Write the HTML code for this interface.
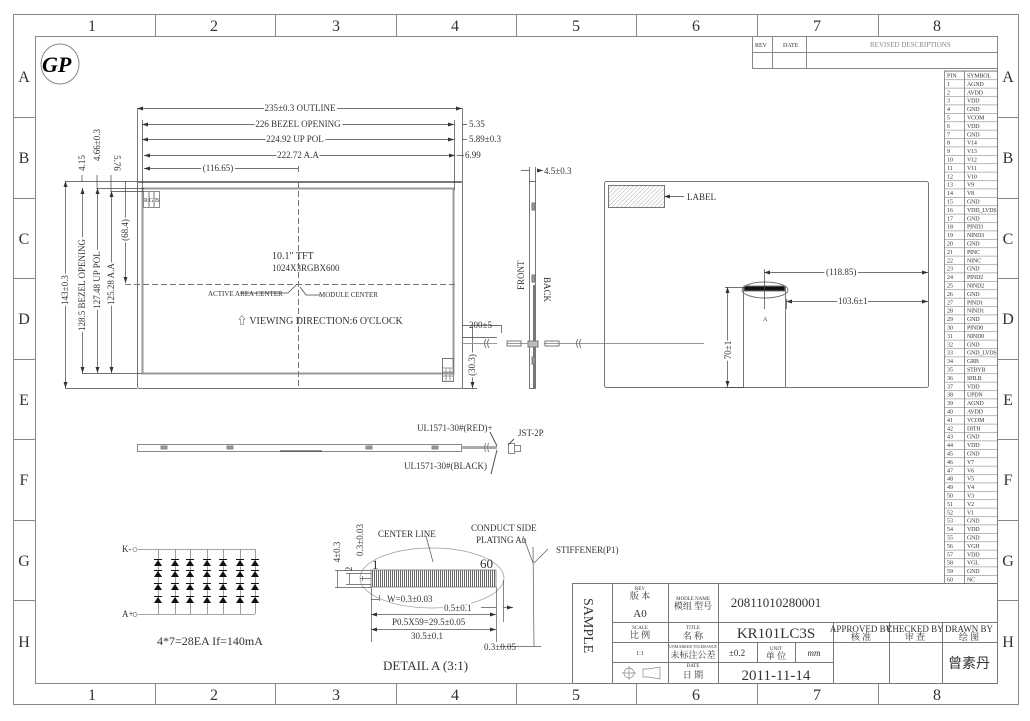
<!DOCTYPE html>
<html><head><meta charset="utf-8"><style>
html,body{margin:0;padding:0;background:#fff;}
svg{display:block;}
text{font-family:"Liberation Serif","Noto Serif CJK SC",serif;fill:#333;}
.s{font-size:9px;}
.m{font-size:10px;}
.t{font-size:6px;}
.g{font-family:"Liberation Sans",sans-serif;fill:#bbb;font-size:16px;}
</style></head><body>
<svg width="1030" height="721" viewBox="0 0 1030 721" xmlns="http://www.w3.org/2000/svg">
<defs>
<marker id="a" markerWidth="6" markerHeight="4" refX="6" refY="2" orient="auto-start-reverse" markerUnits="userSpaceOnUse"><path d="M0,0L6,2L0,4z" fill="#333"/></marker>
<pattern id="h" width="3" height="3" patternUnits="userSpaceOnUse" patternTransform="rotate(45)"><line x1="0" y1="0" x2="0" y2="3" stroke="#999" stroke-width="0.8"/></pattern>
<pattern id="p" width="2" height="4" patternUnits="userSpaceOnUse"><rect width="1" height="4" fill="#666"/></pattern>
<pattern id="rows" x="0" y="71" width="60" height="8.4" patternUnits="userSpaceOnUse"><rect width="60" height="0.6" fill="#888"/></pattern>
<g id="d"><path d="M-4 3L4 3L0 -3z"/><rect x="-4" y="-4" width="8" height="1"/></g>
</defs>
<g fill="none" stroke="#888" stroke-width="1">
<rect x="13.5" y="14.5" width="1005" height="690"/>
<rect x="35.5" y="36.5" width="962" height="647"/>
<path d="M155.5 14v22M275.5 14v22M396.5 14v22M516.5 14v22M636.5 14v22M757.5 14v22M878.5 14v22"/>
<path d="M155.5 683v21M275.5 683v21M396.5 683v21M516.5 683v21M636.5 683v21M757.5 683v21M878.5 683v21"/>
<path d="M13 117.5h22M13 198.5h22M13 278.5h22M13 359.5h22M13 439.5h22M13 520.5h22M13 600.5h22"/>
<path d="M997 117.5h22M997 198.5h22M997 278.5h22M997 359.5h22M997 439.5h22M997 520.5h22M997 600.5h22"/>
</g>
<g class="g" text-anchor="middle">
<text x="92" y="31">1</text><text x="214" y="31">2</text><text x="336" y="31">3</text><text x="455" y="31">4</text><text x="576" y="31">5</text><text x="696" y="31">6</text><text x="817" y="31">7</text><text x="937" y="31">8</text>
<text x="92" y="700">1</text><text x="214" y="700">2</text><text x="336" y="700">3</text><text x="455" y="700">4</text><text x="576" y="700">5</text><text x="696" y="700">6</text><text x="817" y="700">7</text><text x="937" y="700">8</text>
<text x="24" y="82">A</text><text x="24" y="163">B</text><text x="24" y="244">C</text><text x="24" y="324">D</text><text x="24" y="405">E</text><text x="24" y="485">F</text><text x="24" y="566">G</text><text x="24" y="647">H</text>
<text x="1008" y="82">A</text><text x="1008" y="163">B</text><text x="1008" y="244">C</text><text x="1008" y="324">D</text><text x="1008" y="405">E</text><text x="1008" y="485">F</text><text x="1008" y="566">G</text><text x="1008" y="647">H</text>
</g>
<!-- logo -->
<ellipse cx="60" cy="64" rx="19" ry="20" fill="none" stroke="#888"/>
<text x="42" y="72" style="font-family:'Liberation Serif',serif;font-size:22px;font-style:italic;font-weight:bold;fill:#000">GP</text>
<!-- revision block -->
<g fill="none" stroke="#888"><rect x="752.5" y="36.5" width="245" height="32"/><path d="M752 52.5h245M772.5 36v32M806.5 36v32"/></g>
<text class="t" x="755" y="47" fill="#999">REV</text><text class="t" x="783" y="47">DATE</text><text x="870" y="47" style="font-size:7px;fill:#888">REVISED DESCRIPTIONS</text>
<!-- pin table -->
<rect x="944.5" y="71" width="53" height="512.4" fill="url(#rows)"/>
<rect x="944.5" y="71" width="53" height="512.4" fill="none" stroke="#777" stroke-width="0.8"/>
<line x1="964.5" y1="71" x2="964.5" y2="583.4" stroke="#777" stroke-width="0.8"/>
<text style="font-size:6px"><tspan x="947" y="77.5">PIN</tspan><tspan x="947" dy="8.4">1</tspan><tspan x="947" dy="8.4">2</tspan><tspan x="947" dy="8.4">3</tspan><tspan x="947" dy="8.4">4</tspan><tspan x="947" dy="8.4">5</tspan><tspan x="947" dy="8.4">6</tspan><tspan x="947" dy="8.4">7</tspan><tspan x="947" dy="8.4">8</tspan><tspan x="947" dy="8.4">9</tspan><tspan x="947" dy="8.4">10</tspan><tspan x="947" dy="8.4">11</tspan><tspan x="947" dy="8.4">12</tspan><tspan x="947" dy="8.4">13</tspan><tspan x="947" dy="8.4">14</tspan><tspan x="947" dy="8.4">15</tspan><tspan x="947" dy="8.4">16</tspan><tspan x="947" dy="8.4">17</tspan><tspan x="947" dy="8.4">18</tspan><tspan x="947" dy="8.4">19</tspan><tspan x="947" dy="8.4">20</tspan><tspan x="947" dy="8.4">21</tspan><tspan x="947" dy="8.4">22</tspan><tspan x="947" dy="8.4">23</tspan><tspan x="947" dy="8.4">24</tspan><tspan x="947" dy="8.4">25</tspan><tspan x="947" dy="8.4">26</tspan><tspan x="947" dy="8.4">27</tspan><tspan x="947" dy="8.4">28</tspan><tspan x="947" dy="8.4">29</tspan><tspan x="947" dy="8.4">30</tspan><tspan x="947" dy="8.4">31</tspan><tspan x="947" dy="8.4">32</tspan><tspan x="947" dy="8.4">33</tspan><tspan x="947" dy="8.4">34</tspan><tspan x="947" dy="8.4">35</tspan><tspan x="947" dy="8.4">36</tspan><tspan x="947" dy="8.4">37</tspan><tspan x="947" dy="8.4">38</tspan><tspan x="947" dy="8.4">39</tspan><tspan x="947" dy="8.4">40</tspan><tspan x="947" dy="8.4">41</tspan><tspan x="947" dy="8.4">42</tspan><tspan x="947" dy="8.4">43</tspan><tspan x="947" dy="8.4">44</tspan><tspan x="947" dy="8.4">45</tspan><tspan x="947" dy="8.4">46</tspan><tspan x="947" dy="8.4">47</tspan><tspan x="947" dy="8.4">48</tspan><tspan x="947" dy="8.4">49</tspan><tspan x="947" dy="8.4">50</tspan><tspan x="947" dy="8.4">51</tspan><tspan x="947" dy="8.4">52</tspan><tspan x="947" dy="8.4">53</tspan><tspan x="947" dy="8.4">54</tspan><tspan x="947" dy="8.4">55</tspan><tspan x="947" dy="8.4">56</tspan><tspan x="947" dy="8.4">57</tspan><tspan x="947" dy="8.4">58</tspan><tspan x="947" dy="8.4">59</tspan><tspan x="947" dy="8.4">60</tspan></text>
<text style="font-size:6px;letter-spacing:-0.2px"><tspan x="967" y="77.5">SYMBOL</tspan><tspan x="967" dy="8.4">AGND</tspan><tspan x="967" dy="8.4">AVDD</tspan><tspan x="967" dy="8.4">VDD</tspan><tspan x="967" dy="8.4">GND</tspan><tspan x="967" dy="8.4">VCOM</tspan><tspan x="967" dy="8.4">VDD</tspan><tspan x="967" dy="8.4">GND</tspan><tspan x="967" dy="8.4">V14</tspan><tspan x="967" dy="8.4">V13</tspan><tspan x="967" dy="8.4">V12</tspan><tspan x="967" dy="8.4">V11</tspan><tspan x="967" dy="8.4">V10</tspan><tspan x="967" dy="8.4">V9</tspan><tspan x="967" dy="8.4">V8</tspan><tspan x="967" dy="8.4">GND</tspan><tspan x="967" dy="8.4">VDD_LVDS</tspan><tspan x="967" dy="8.4">GND</tspan><tspan x="967" dy="8.4">PIND3</tspan><tspan x="967" dy="8.4">NIND3</tspan><tspan x="967" dy="8.4">GND</tspan><tspan x="967" dy="8.4">PINC</tspan><tspan x="967" dy="8.4">NINC</tspan><tspan x="967" dy="8.4">GND</tspan><tspan x="967" dy="8.4">PIND2</tspan><tspan x="967" dy="8.4">NIND2</tspan><tspan x="967" dy="8.4">GND</tspan><tspan x="967" dy="8.4">PIND1</tspan><tspan x="967" dy="8.4">NIND1</tspan><tspan x="967" dy="8.4">GND</tspan><tspan x="967" dy="8.4">PIND0</tspan><tspan x="967" dy="8.4">NIND0</tspan><tspan x="967" dy="8.4">GND</tspan><tspan x="967" dy="8.4">GND_LVDS</tspan><tspan x="967" dy="8.4">GRB</tspan><tspan x="967" dy="8.4">STBYB</tspan><tspan x="967" dy="8.4">SHLR</tspan><tspan x="967" dy="8.4">VDD</tspan><tspan x="967" dy="8.4">UPDN</tspan><tspan x="967" dy="8.4">AGND</tspan><tspan x="967" dy="8.4">AVDD</tspan><tspan x="967" dy="8.4">VCOM</tspan><tspan x="967" dy="8.4">DITH</tspan><tspan x="967" dy="8.4">GND</tspan><tspan x="967" dy="8.4">VDD</tspan><tspan x="967" dy="8.4">GND</tspan><tspan x="967" dy="8.4">V7</tspan><tspan x="967" dy="8.4">V6</tspan><tspan x="967" dy="8.4">V5</tspan><tspan x="967" dy="8.4">V4</tspan><tspan x="967" dy="8.4">V3</tspan><tspan x="967" dy="8.4">V2</tspan><tspan x="967" dy="8.4">V1</tspan><tspan x="967" dy="8.4">GND</tspan><tspan x="967" dy="8.4">VDD</tspan><tspan x="967" dy="8.4">GND</tspan><tspan x="967" dy="8.4">VGH</tspan><tspan x="967" dy="8.4">VDD</tspan><tspan x="967" dy="8.4">VGL</tspan><tspan x="967" dy="8.4">GND</tspan><tspan x="967" dy="8.4">NC</tspan></text>
<!-- front view -->
<g fill="none" stroke="#777">
<rect x="137.5" y="181.5" width="325" height="207" rx="2"/>
<rect x="142.5" y="188.5" width="311" height="185" stroke-width="2" stroke="#999"/>
<line x1="137" y1="182.5" x2="462" y2="182.5"/>
<rect x="143.5" y="191.5" width="16" height="16" stroke="#888"/>
<path d="M149 191v16M154 191v16"/>
<rect x="442.5" y="358.5" width="11" height="23"/>
<path d="M443 368h11M443 372h11M443 376h11M446 368v14M450 368v14" stroke="#999"/>
<path d="M298.5 182v207" stroke-dasharray="6,3"/>
<path d="M125 284.5h333" stroke-dasharray="6,3"/>
</g>
<text class="t" x="144" y="202">R</text><text class="t" x="149" y="202">G</text><text class="t" x="155" y="202">B</text>
<g stroke="#444" stroke-width="0.7" fill="none">
<path d="M137 108.5h325" marker-start="url(#a)" marker-end="url(#a)"/>
<path d="M142 124.5h312" marker-start="url(#a)" marker-end="url(#a)"/>
<path d="M142 139.5h312" marker-start="url(#a)" marker-end="url(#a)"/>
<path d="M144 155.5h311" marker-start="url(#a)" marker-end="url(#a)"/>
<path d="M144 168.5h154" marker-start="url(#a)"/>
<path d="M137.5 108v74M462.5 108v74M142.5 120v70M454.5 120v70M298.5 166v6"/>
<path d="M462 124.5h5M462 139.5h5M457 155.5h7"/>
<path d="M82 181.5h56M97 188.5h47M111 191.5h33M65 181.5h72M125 181.5h12"/>
<path d="M65.5 181v207" marker-start="url(#a)" marker-end="url(#a)"/>
<path d="M82.5 188v185" marker-start="url(#a)" marker-end="url(#a)"/>
<path d="M97.5 188v185" marker-start="url(#a)" marker-end="url(#a)"/>
<path d="M111.5 191v182" marker-start="url(#a)" marker-end="url(#a)"/>
<path d="M125.5 181v102" marker-end="url(#a)"/>
<path d="M65 388.5h72M82 373.5h60M97 373.5h45M111 373.5h31"/>
<path d="M82 175v7M97 175v14M111 175v17"/>
<path d="M462 388.5h15M472.5 325v63" marker-end="url(#a)"/>
<path d="M462 325.5h39M501.5 325v8M462 337.5h35"/>
<path d="M240 293h48l9-9M320 295h-14l-6-8"/>
</g>
<g class="s" text-anchor="middle">
<text x="300" y="111" style="paint-order:stroke;stroke:#fff;stroke-width:4">235±0.3 OUTLINE</text>
<text x="298" y="127" style="paint-order:stroke;stroke:#fff;stroke-width:4">226 BEZEL OPENING</text>
<text x="295" y="142" style="paint-order:stroke;stroke:#fff;stroke-width:4">224.92 UP POL</text>
<text x="298" y="158" style="paint-order:stroke;stroke:#fff;stroke-width:4">222.72 A.A</text>
<text x="218" y="171" style="paint-order:stroke;stroke:#fff;stroke-width:4">(116.65)</text>
</g>
<g class="s"><text x="469" y="127">5.35</text><text x="469" y="142">5.89±0.3</text><text x="465" y="158">6.99</text>
<text x="272" y="259" class="m">10.1" TFT</text><text x="272" y="271">1024X3RGBX600</text>
<text x="208" y="296" style="font-size:7px">ACTIVE AREA CENTER</text><text x="319" y="297" style="font-size:7px">MODULE CENTER</text>
<text x="237" y="324" class="m">⇧ VIEWING DIRECTION:6 O'CLOCK</text>
<text x="469" y="328">200±5</text>
</g>
<g class="s" text-anchor="middle">
<text transform="translate(68,290) rotate(-90)" style="paint-order:stroke;stroke:#fff;stroke-width:4">143±0.3</text>
<text transform="translate(85,285) rotate(-90)" style="paint-order:stroke;stroke:#fff;stroke-width:4">128.5 BEZEL OPENING</text>
<text transform="translate(100,280) rotate(-90)" style="paint-order:stroke;stroke:#fff;stroke-width:4">127.48 UP POL</text>
<text transform="translate(114,284) rotate(-90)" style="paint-order:stroke;stroke:#fff;stroke-width:4">125.28 A.A</text>
<text transform="translate(128,230) rotate(-90)" style="paint-order:stroke;stroke:#fff;stroke-width:4">(68.4)</text>
<text transform="translate(85,163) rotate(-90)">4.15</text>
<text transform="translate(100,145) rotate(-90)">4.66±0.3</text>
<text transform="translate(114,163) rotate(90)">5.76</text>
<text transform="translate(475,365) rotate(-90)" style="paint-order:stroke;stroke:#fff;stroke-width:4">(30.3)</text>
</g>
<!-- side view -->
<g fill="none" stroke="#777">
<rect x="529.5" y="181.5" width="6" height="207"/>
<path d="M534 285v103" stroke-width="2"/>
<rect x="532" y="203" width="3" height="7" fill="#999"/><rect x="532" y="275" width="3" height="7" fill="#999"/><rect x="532" y="357" width="3" height="7" fill="#999"/>
<rect x="528" y="341" width="10" height="6" fill="#bbb"/>
<path d="M462 343.5h35M507 343.5h21M544 343.5h160" stroke="#999"/>
<rect x="507" y="341" width="14" height="5"/><rect x="545" y="341" width="14" height="5"/>
<path d="M486 339q-3 4 0 9M489 339q-3 4 0 9M578 339q-3 4 0 9M581 339q-3 4 0 9"/>
</g>
<g stroke="#444" stroke-width="0.7"><path d="M521 170.5h8M537 170.5h6" marker-end="url(#a)"/><path d="M529.5 167v15M535.5 167v15"/></g>
<text class="s" x="544" y="174">4.5±0.3</text>
<text class="s" transform="translate(524,290) rotate(-90)">FRONT</text>
<text class="s" transform="translate(544,277) rotate(90)">BACK</text>
<!-- back view -->
<g fill="none" stroke="#777">
<rect x="604.5" y="181.5" width="324" height="206" rx="2"/>
<rect x="608.5" y="185.5" width="56" height="22" fill="url(#h)"/>
<rect x="743.5" y="287.5" width="42" height="100"/>
<rect x="744" y="286" width="41" height="5" fill="#111"/>
<ellipse cx="765" cy="290" rx="23" ry="8"/>
</g>
<g stroke="#444" stroke-width="0.7" fill="none">
<path d="M664 196.5h20" marker-start="url(#a)"/>
<path d="M764 272.5h164" marker-start="url(#a)" marker-end="url(#a)"/>
<path d="M786 301.5h142" marker-start="url(#a)" marker-end="url(#a)"/>
<path d="M764.5 269v40M786.5 299v10" />
<path d="M727.5 287v100" marker-start="url(#a)" marker-end="url(#a)"/>
<path d="M725 287.5h19M725 387.5h19"/>
</g>
<text class="s" x="687" y="200">LABEL</text>
<text class="s" x="826" y="275" style="paint-order:stroke;stroke:#fff;stroke-width:4">(118.85)</text>
<text class="s" x="838" y="304" style="paint-order:stroke;stroke:#fff;stroke-width:4">103.6±1</text>
<text class="t" x="763" y="321">A</text>
<text class="s" transform="translate(731,350) rotate(-90)" text-anchor="middle" style="paint-order:stroke;stroke:#fff;stroke-width:4">70±1</text>
<!-- LED bar -->
<g fill="none" stroke="#888">
<rect x="137.5" y="444.5" width="324" height="7"/>
<rect x="161" y="446" width="6" height="3" fill="#999"/><rect x="227" y="446" width="6" height="3" fill="#999"/><rect x="366" y="446" width="6" height="3" fill="#999"/><rect x="432" y="446" width="6" height="3" fill="#999"/>
<path d="M280 451h42" stroke="#333"/>
<path d="M461 447.5h36" stroke="#aaa" stroke-width="3"/>
<rect x="508.5" y="443.5" width="6" height="10"/><rect x="514.5" y="445.5" width="6" height="6"/>
<path d="M486 443q-3 4 0 9M489 443q-3 4 0 9"/>
<path d="M490 432l7 14M514 439l-6 6M497 450l-6 24" stroke="#555"/>
</g>
<text class="s" x="417" y="431">UL1571-30#(RED)+</text>
<text class="s" x="518" y="436">JST-2P</text>
<text class="s" x="404" y="469">UL1571-30#(BLACK)</text>
<!-- LED circuit -->
<g fill="none" stroke="#888" stroke-width="0.8">
<path d="M138 549.5h117M138 614.5h117"/>
<path d="M158.5 549v65M175.5 549v65M190.5 549v65M207.5 549v65M223.5 549v65M240.5 549v65M255.5 549v65"/>
<circle cx="135" cy="549.5" r="2"/><circle cx="135" cy="614.5" r="2"/>
</g>
<g fill="#111">
<use href="#d" x="158" y="563"/><use href="#d" x="158" y="574"/><use href="#d" x="158" y="587"/><use href="#d" x="158" y="600"/>
<use href="#d" x="175" y="563"/><use href="#d" x="175" y="574"/><use href="#d" x="175" y="587"/><use href="#d" x="175" y="600"/>
<use href="#d" x="190" y="563"/><use href="#d" x="190" y="574"/><use href="#d" x="190" y="587"/><use href="#d" x="190" y="600"/>
<use href="#d" x="207" y="563"/><use href="#d" x="207" y="574"/><use href="#d" x="207" y="587"/><use href="#d" x="207" y="600"/>
<use href="#d" x="223" y="563"/><use href="#d" x="223" y="574"/><use href="#d" x="223" y="587"/><use href="#d" x="223" y="600"/>
<use href="#d" x="240" y="563"/><use href="#d" x="240" y="574"/><use href="#d" x="240" y="587"/><use href="#d" x="240" y="600"/>
<use href="#d" x="255" y="563"/><use href="#d" x="255" y="574"/><use href="#d" x="255" y="587"/><use href="#d" x="255" y="600"/>
</g>
<text class="s" x="122" y="552">K-</text><text class="s" x="122" y="617">A+</text>
<text x="157" y="645" style="font-size:12px">4*7=28EA If=140mA</text>
<!-- detail A -->
<g fill="none" stroke="#555" stroke-width="0.7">
<rect x="371" y="570" width="125" height="17" fill="url(#p)" stroke="#666"/>
<ellipse cx="432" cy="578" rx="72" ry="30" stroke="#999"/>
<path d="M337.5 570v17M349.5 573v11M362.5 576v5" />
<path d="M335 570.5h36M346 573.5h25M346 584.5h25M335 587.5h36M360 578.5h11"/>
<path d="M371.5 587v55M496.5 587v55M503.5 580v42"/>
<path d="M371 629.5h125" marker-start="url(#a)" marker-end="url(#a)"/>
<path d="M371 614.5h125" marker-start="url(#a)" marker-end="url(#a)"/>
<path d="M481 607.5h15M503 607.5h10" marker-end="url(#a)"/>
<path d="M371 599.5h8M379.5 595v6"/>
<path d="M426 536l7 26M533 547l1 99M533 563l-10-27M534 563l14-14"/>
<path d="M500 646.5h40M534 646.5h7"/>
</g>
<g class="s" text-anchor="middle">
<text transform="translate(340,552) rotate(-90)">4±0.3</text>
<text transform="translate(352,569) rotate(-90)">2</text>
<text transform="translate(363,540) rotate(-90)">0.3±0.03</text>
</g>
<text x="372" y="569" style="font-size:13px">1</text><text x="480" y="568" style="font-size:13px">60</text>
<text class="s" x="378" y="537">CENTER LINE</text>
<text class="s" x="471" y="531">CONDUCT SIDE</text><text class="s" x="476" y="543">PLATING Au</text>
<text class="s" x="556" y="553">STIFFENER(P1)</text>
<text class="s" x="387" y="602">W=0.3±0.03</text>
<text class="s" x="444" y="611" style="paint-order:stroke;stroke:#fff;stroke-width:3">0.5±0.1</text>
<text class="s" x="392" y="625" style="paint-order:stroke;stroke:#fff;stroke-width:3">P0.5X59=29.5±0.05</text>
<text class="s" x="411" y="639" style="paint-order:stroke;stroke:#fff;stroke-width:3">30.5±0.1</text>
<text class="s" x="484" y="650">0.3±0.05</text>
<text x="383" y="670" style="font-size:13px">DETAIL A (3:1)</text>
<!-- title block -->
<g fill="none" stroke="#777">
<rect x="572.5" y="583.5" width="425" height="100"/>
<path d="M612.5 583v100M668.5 583v100M718.5 583v100M833.5 622v61M889.5 622v61M942.5 622v61"/>
<path d="M612 622.5h385M612 642.5h385M612 662.5h221M757.5 642v20M795.5 642v20"/>
</g>
<text transform="translate(584,598) rotate(90)" style="font-size:14px">SAMPLE</text>
<g text-anchor="middle">
<text x="640" y="590" style="font-size:5px">REV</text><text class="s" x="640" y="599">版 本</text>
<text x="640" y="617" style="font-size:11px">A0</text>
<text x="640" y="629" style="font-size:5px">SCALE</text><text class="s" x="640" y="638">比 例</text>
<text class="t" x="640" y="655">1:1</text>
<text x="693" y="600" style="font-size:5px">MODLE NAME</text><text class="s" x="693" y="609">模组 型号</text>
<text x="693" y="629" style="font-size:5px">TITLE</text><text class="s" x="693" y="639">名 称</text>
<text x="693" y="648" style="font-size:4px">UNMARKED TOLERANCE</text><text class="s" x="693" y="658">未标注公差</text>
<text x="693" y="667" style="font-size:5px">DATE</text><text class="s" x="693" y="678">日 期</text>
<text x="776" y="607" style="font-size:13px">20811010280001</text>
<text x="776" y="638" style="font-size:15px">KR101LC3S</text>
<text class="s" x="737" y="656">±0.2</text>
<text x="776" y="650" style="font-size:5px">UNIT</text><text class="s" x="776" y="659">单 位</text>
<text class="s" x="814" y="656" style="font-style:italic">mm</text>
<text x="776" y="680" style="font-size:15px">2011-11-14</text>
<text class="s" x="861" y="632">APPROVED BY</text><text class="s" x="861" y="640">核 准</text>
<text class="s" x="915" y="632">CHECKED BY</text><text class="s" x="915" y="640">审 查</text>
<text class="s" x="969" y="632">DRAWN BY</text><text class="s" x="969" y="640">绘 图</text>
<text x="969" y="668" style="font-size:14px;font-family:'Noto Sans CJK SC',sans-serif">曾素丹</text>
</g>
<g fill="none" stroke="#888" stroke-width="0.7"><circle cx="629" cy="673" r="5"/><path d="M622 673h14M629 666v14"/><path d="M643 669h5l12-2v12l-12-2h-5z"/></g>
</svg>
</body></html>
